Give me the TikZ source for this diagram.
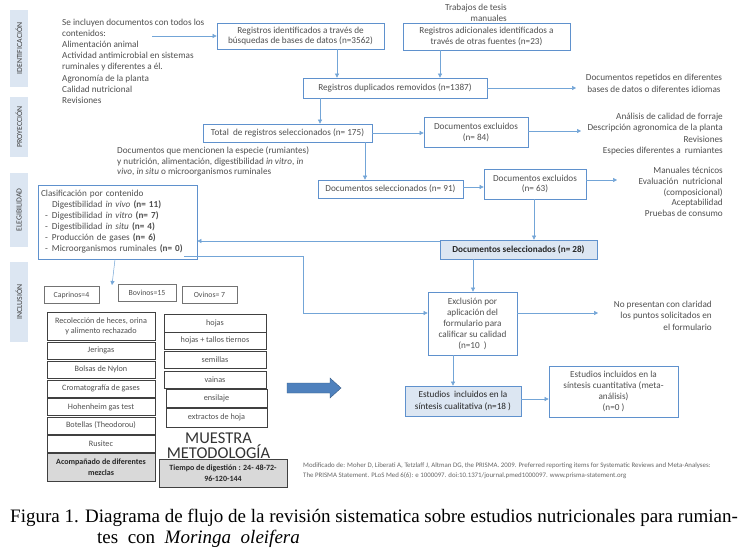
\documentclass[tikz,border=0pt]{standalone}
\usepackage{fontspec}
\setmainfont{Carlito}
\newfontfamily\capfont{Liberation Serif}
\usetikzlibrary{arrows.meta,calc}
\definecolor{bord}{RGB}{95,145,205}
\definecolor{arrc}{RGB}{115,165,215}
\definecolor{lblfill}{RGB}{220,230,242}
\definecolor{txt}{RGB}{80,80,80}
\definecolor{gfill}{RGB}{217,217,217}
\definecolor{bigarr}{RGB}{79,129,189}
\begin{document}
\begin{tikzpicture}[x=1pt,y=-1pt,
  box/.style={draw=bord,line width=0.7pt,fill=white,align=center,text=txt,
    font=\fontsize{9.2}{10.5}\selectfont,inner sep=1pt},
  selbox/.style={box,fill=lblfill},
  arr/.style={draw=arrc,line width=0.5pt,-{Triangle[length=4pt,width=4pt]}},
  plain/.style={draw=arrc,line width=0.5pt},
  lbl/.style={fill=lblfill,rotate=90,text=black!75,font=\fontsize{7.8}{8}\selectfont,inner sep=0pt,minimum height=18},
  ftxt/.style={text=txt,font=\fontsize{9.2}{11.1}\selectfont,inner sep=0pt},
  mbox/.style={draw=black!75,line width=0.6pt,fill=white,text=txt,align=center,
    font=\fontsize{8.2}{10}\selectfont,inner sep=1pt},
  gbox/.style={mbox,fill=gfill,text=black!85,font=\bfseries\fontsize{8}{11}\selectfont},
  abox/.style={draw=black!55,line width=0.5pt,fill=white,text=txt,
    font=\fontsize{7.8}{8}\selectfont,inner sep=1pt,minimum height=17}
]
\useasboundingbox (0,0) rectangle (741,556);
\fill[white] (0,0) rectangle (741,556);

% phase labels
\node[lbl,minimum width=77] (lid) at (19,48.5) {IDENTIFICACIÓN};
\node[lbl,minimum width=60] (lpr) at (19,127) {PROYECCIÓN};
\node[lbl,minimum width=74] (lel) at (19,210) {ELEGIBILIDAD};
\node[lbl,minimum width=80] (lin) at (19,302) {INCLUSIÓN};

% intro text
\node[ftxt,anchor=north west,align=left] (intro) at (62,19) {Se incluyen documentos con todos los\\contenidos:\\Alimentación animal\\Actividad antimicrobial en sistemas\\ruminales y diferentes a él.\\Agronomía de la planta\\Calidad nutricional\\Revisiones};
\coordinate (introout) at (152,36);

% identification
\node[box,minimum width=167,minimum height=26] (b1) at (300.5,36) {Registros identificados a través de\\búsquedas de bases de datos (n=3562)};
\node[box,minimum width=167,minimum height=27] (b2) at (486.5,36.5) {Registros adicionales identificados a\\través de otras fuentes (n=23)};
\node[ftxt,anchor=east,align=right] (tesis) at (507,12.5) {Trabajos de tesis\\manuales};
\node[box,minimum width=184,minimum height=20] (b3) at (395,88) {Registros duplicados removidos (n=1387)};
\node[ftxt,align=center,font=\fontsize{9.2}{12}\selectfont] (rep) at (654,83) {Documentos repetidos en diferentes\\bases de datos o diferentes idiomas};
\coordinate (repin) at (576,88);

% projection
\node[box,minimum width=169,minimum height=18] (b4) at (287.5,133) {Total\ \ de registros seleccionados (n= 175)};
\node[box,minimum width=104,minimum height=30] (b5) at (476,132.5) {Documentos excluidos\\(n= 84)};
\node[ftxt,anchor=east,align=right,font=\fontsize{9.2}{11.3}\selectfont] (exc1) at (723,134) {Análisis de calidad de forraje\\Descripción agronomica de la planta\\Revisiones\\Especies diferentes a\ \ rumiantes};
\coordinate (exc1in) at (581,131);
\node[ftxt,anchor=west,align=left,font=\fontsize{9.2}{10.6}\selectfont] (crit) at (117,161.5) {Documentos que mencionen la especie (rumiantes)\\y nutrición, alimentación, digestibilidad \textit{in vitro}, \textit{in}\\\textit{vivo}, \textit{in situ} o microorganismos ruminales};

% eligibility
\node[box,minimum width=145,minimum height=18] (b6) at (390.5,189) {Documentos seleccionados (n= 91)};
\node[box,minimum width=102,minimum height=30] (b7) at (535,184) {Documentos excluidos\\(n= 63)};
\node[ftxt,anchor=east,align=right,font=\fontsize{9.2}{10.8}\selectfont] (exc2) at (723,192) {Manuales técnicos\\Evaluación\ \ nutricional\\(composicional)\\Aceptabilidad\\Pruebas de consumo};
\coordinate (exc2in) at (617,180);
\node[selbox,minimum width=157,minimum height=19,font=\bfseries\fontsize{9.2}{10}\selectfont,text=black!85] (b8) at (518.5,249.5) {Documentos seleccionados (n= 28)};
\node[box,minimum width=159,minimum height=74,align=left,text width=153,inner sep=3pt,
  font=\fontsize{9.2}{11}\selectfont] (clas) at (117.5,222) {Clasificación por contenido\\
\hspace*{11pt}Digestibilidad \textit{in vivo} \textbf{(n= 11)}\\
\makebox[11pt][l]{\hspace{4pt}-}Digestibilidad \textit{in vitro} \textbf{(n= 7)}\\
\makebox[11pt][l]{\hspace{4pt}-}Digestibilidad \textit{in situ} \textbf{(n= 4)}\\
\makebox[11pt][l]{\hspace{4pt}-}Producción de gases \textbf{(n= 6)}\\
\makebox[11pt][l]{\hspace{4pt}-}Microorganismos ruminales \textbf{(n= 0)}};

% inclusion
\node[box,minimum width=89,minimum height=63,font=\fontsize{9.2}{11}\selectfont] (b9) at (472.5,323.5) {Exclusión por\\aplicación del\\formulario para\\calificar su calidad\\(n=10\ \ )};
\node[ftxt,anchor=east,align=right,font=\fontsize{9.2}{11.5}\selectfont] (nopres) at (712,315.5) {No presentan con claridad\\los puntos solicitados en\\el formulario};
\coordinate (nopin) at (598,313);
\node[selbox,minimum width=116,minimum height=30,text=black!85,font=\fontsize{9.2}{11.5}\selectfont] (b10) at (463,401) {Estudios\ \ incluidos en la\\síntesis cualitativa (n=18 )};
\node[box,minimum width=129,minimum height=51,font=\fontsize{9.2}{11}\selectfont] (b11) at (613.5,391.5) {Estudios incluidos en la\\síntesis cuantitativa (meta-\\análisis)\\(n=0 )};

% animals
\node[abox,minimum width=55] (capr) at (71.5,295) {Caprinos=4};
\node[abox,minimum width=58] (bov) at (147,293) {Bovinos=15};
\node[abox,minimum width=55] (ovi) at (209.5,294.5) {Ovinos= 7};

% methodology boxes
\node[mbox,minimum width=108,minimum height=28] (m1) at (101,326) {Recolección de heces, orina\\y alimento rechazado};
\node[mbox,minimum width=108,minimum height=17] (m2) at (101,350.5) {Jeringas};
\node[mbox,minimum width=108,minimum height=17] (m3) at (101,369.5) {Bolsas de Nylon};
\node[mbox,minimum width=108,minimum height=17] (m4) at (101,388.5) {Cromatografía de gases};
\node[mbox,minimum width=108,minimum height=17] (m5) at (101,407) {Hohenheim gas test};
\node[mbox,minimum width=108,minimum height=17] (m6) at (101,425.5) {Botellas (Theodorou)};
\node[mbox,minimum width=108,minimum height=17] (m7) at (101,444) {Rusitec};
\node[gbox,minimum width=108,minimum height=28] (m8) at (101,467) {Acompañado de diferentes\\mezclas};

% sample boxes
\node[mbox,minimum width=102,minimum height=18] (s1) at (215,323) {hojas};
\node[mbox,minimum width=102,minimum height=17] (s2) at (215,340.5) {hojas + tallos tiernos};
\node[mbox,minimum width=102,minimum height=17] (s3) at (215,359.5) {semillas};
\node[mbox,minimum width=102,minimum height=17] (s4) at (215,379.5) {vainas};
\node[mbox,minimum width=101,minimum height=18] (s5) at (216.5,398) {ensilaje};
\node[mbox,minimum width=101,minimum height=19] (s6) at (216.5,417.5) {extractos de hoja};
\node[text=black!80,font=\fontsize{16.5}{15.5}\selectfont,align=center,inner sep=0pt] (mm) at (218.5,445.5) {MUESTRA\\METODOLOGÍA};
\node[gbox,minimum width=128,minimum height=28] (tiempo) at (223,473) {Tiempo de digestión : 24- 48-72-\\96-120-144};

% big arrow
\fill[bigarr,draw=bigarr!70!black,line width=0.4pt] (287,383) -- (330,383) -- (330,378) -- (341,388) -- (330,398) -- (330,393) -- (287,393) -- cycle;

% citation
\node[ftxt,anchor=north west,align=left,font=\fontsize{6.85}{10}\selectfont,text=black!60] (cit) at (303,463) {Modificado de: Moher D, Liberati A, Tetzlaff J, Altman DG, the PRISMA. 2009. Preferred reporting items for Systematic Reviews and Meta-Analyses:\\The PRISMA Statement. PLoS Med 6(6): e 1000097. doi:10.1371/journal.pmed1000097. www.prisma-statement.org};

% caption
\node[anchor=base west,inner sep=0pt,font=\capfont\fontsize{19}{21}\selectfont] (cap1) at (10,522) {Figura 1. Diagrama de flujo de la revisión sistematica sobre estudios nutricionales para rumian-};
\node[anchor=base west,inner sep=0pt,font=\capfont\fontsize{19}{21}\selectfont] (cap2) at (97,543) {tes\ \ con\ \ \textit{Moringa\ \ oleifera}};

% coordinates for connectors
\coordinate (x337) at (337,0);
\coordinate (x440) at (440,0);
\coordinate (x320) at (320,0);
\coordinate (x365) at (365,0);
\coordinate (y187) at (0,187);
\coordinate (x534) at (534,0);
\coordinate (y241) at (0,241);
\coordinate (x473) at (473,0);
\coordinate (x453) at (453,0);
\coordinate (y313) at (0,313);
\coordinate (y399) at (0,399);
\coordinate (clasout) at (184,256);
\coordinate (bend) at (303,313);
\coordinate (animin) at (112,285);

% connectors
\draw[arr] (introout) -- (b1.west);
\draw[arr] (b1.south -| x337) -- (b3.north -| x337);
\draw[arr] (b2.south -| x440) -- (b3.north -| x440);
\draw[arr] (b3.east) -- (repin);
\draw[arr] (b3.south -| x320) -- (b4.north -| x320);
\draw[arr] (b4.east) -- (b5.west |- b4.east);
\draw[arr] (b5.east |- exc1in) -- (exc1in);
\draw[arr] (b4.south -| x365) -- (b6.north -| x365);
\draw[arr] (b6.east |- y187) -- (b7.west |- y187);
\draw[arr] (b7.east |- exc2in) -- (exc2in);
\draw[arr] (b7.south -| x534) -- (b8.north -| x534);
\draw[arr] (b8.west |- y241) -- (clas.east |- y241);
\draw[arr] (clasout) -| (bend) -- (b9.west |- bend);
\draw[plain,-{Triangle[length=4pt,width=4pt]}] ([xshift=-2.5pt]clas.south) -- (animin);
\draw[arr] (b8.south -| x473) -- (b9.north -| x473);
\draw[arr] (b9.east |- y313) -- (nopin);
\draw[arr] (b9.south -| x453) -- (b10.north -| x453);
\draw[arr] (b10.east |- y399) -- (b11.west |- y399);
\end{tikzpicture}
\end{document}
